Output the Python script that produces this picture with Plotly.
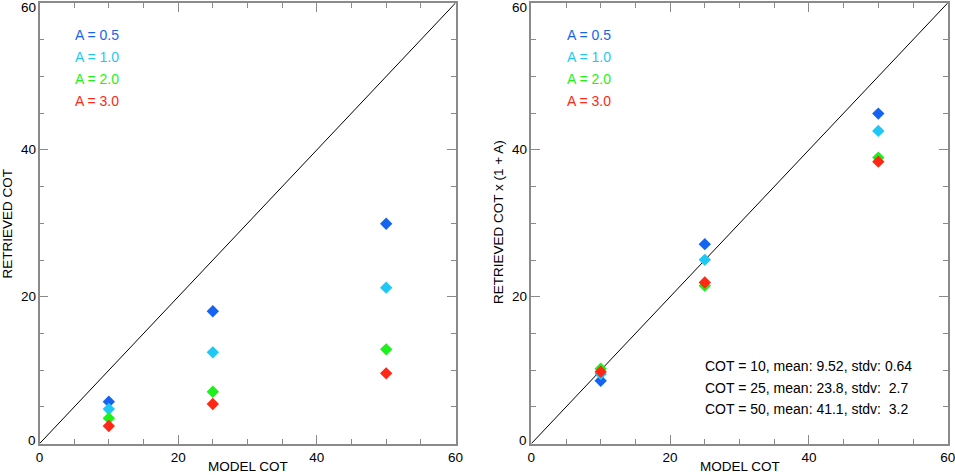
import plotly.graph_objects as go

# model cloud optical thickness
model_cot = [10, 25, 50]
aerosol_labels = ["A = 0.5", "A = 1.0", "A = 2.0", "A = 3.0"]
colors = ["#1464F0", "#1EC8F5", "#1EF01E", "#FF2814"]

# left panel: retrieved COT, one list per A value
retrieved = [
    [5.72, 18.03, 29.95],
    [4.72, 12.44, 21.24],
    [3.46, 7.08, 12.85],
    [2.41, 5.40, 9.58],
]
# right panel: retrieved COT x (1 + A)
corrected = [
    [8.57, 27.17, 44.94],
    [9.50, 25.03, 42.59],
    [10.2, 21.50, 38.95],
    [9.80, 21.95, 38.40],
]
one_to_one = [0, 60]
ytick_vals = [0, 20, 40, 60]
stats_lines = [
    "COT = 10, mean: 9.52, stdv: 0.64",
    "COT = 25, mean: 23.8, stdv:  2.7",
    "COT = 50, mean: 41.1, stdv:  3.2",
]

FONT = "Liberation Sans, Arial, Helvetica, sans-serif"
W, H = 955, 476

fig = go.Figure()

for xa, ya, yvals in [("x", "y", retrieved), ("x2", "y2", corrected)]:
    fig.add_trace(go.Scatter(x=one_to_one, y=one_to_one, mode="lines",
                             line=dict(color="black", width=1),
                             xaxis=xa, yaxis=ya, showlegend=False, hoverinfo="skip"))
    for i, vals in enumerate(yvals):
        fig.add_trace(go.Scatter(x=model_cot, y=vals, mode="markers",
                                 marker=dict(symbol="diamond", size=9.5, color=colors[i],
                                             line=dict(width=0)),
                                 name=aerosol_labels[i], xaxis=xa, yaxis=ya,
                                 showlegend=False))

axis_style = dict(range=[0, 60], dtick=20, ticks="inside", ticklen=9, tickwidth=1,
                  tickcolor="#8a8a8a", showline=True, linecolor="#8a8a8a", linewidth=1.5,
                  mirror="allticks", showgrid=False, zeroline=False, automargin=False,
                  ticklabeloverflow="allow",
                  minor=dict(dtick=5, ticks="inside", ticklen=5, tickcolor="#8a8a8a",
                             showgrid=False),
                  tickfont=dict(size=13.5, color="black", family=FONT))

ydom = [1 - 443.7 / H, 1 - 3 / H]
fig.update_layout(
    width=W, height=H,
    margin=dict(l=0, r=0, t=0, b=0, pad=0),
    paper_bgcolor="white", plot_bgcolor="white",
    font=dict(family=FONT, size=13.5, color="black"),
    xaxis=dict(domain=[39.5 / W, 455.5 / W], anchor="y", **axis_style),
    yaxis=dict(domain=ydom, anchor="x", showticklabels=False, **axis_style),
    xaxis2=dict(domain=[531.3 / W, 947.7 / W], anchor="y2", **axis_style),
    yaxis2=dict(domain=ydom, anchor="x2", showticklabels=False, **axis_style),
)

annotations = []
# y tick labels (end labels nudged inside the frame, as in the original)
for xr, yr in (("x domain", "y"), ("x2 domain", "y2")):
    for v in ytick_vals:
        shift = -5 if v == ytick_vals[-1] else (3 if v == ytick_vals[0] else 0)
        annotations.append(dict(x=0, y=v, xref=xr, yref=yr, text=str(v), showarrow=False,
                                xanchor="right", yanchor="middle", xshift=-2, yshift=shift,
                                font=dict(size=13.5, color="black", family=FONT)))
# legend-like coloured labels in each panel
for x0 in (73 / W, 565 / W):
    for i, lab in enumerate(aerosol_labels):
        annotations.append(dict(x=x0, y=1 - (35.5 + 21.8 * i) / H, xref="paper", yref="paper",
                                text=lab, showarrow=False, xanchor="left", yanchor="middle",
                                font=dict(size=14, color=colors[i], family=FONT)))
# axis titles
for xc in (247.5 / W, 739.5 / W):
    annotations.append(dict(x=xc, y=0, xref="paper", yref="paper", text="MODEL COT",
                            showarrow=False, xanchor="center", yanchor="bottom",
                            font=dict(size=13.5, color="black", family=FONT)))
annotations.append(dict(x=6.5 / W, y=1 - 224 / H, xref="paper", yref="paper",
                        text="RETRIEVED COT", textangle=-90, showarrow=False,
                        xanchor="center", yanchor="middle"))
annotations.append(dict(x=498 / W, y=1 - 222 / H, xref="paper", yref="paper",
                        text="RETRIEVED COT x (1 + A)", textangle=-90, showarrow=False,
                        xanchor="center", yanchor="middle"))
# statistics text
for i, line in enumerate(stats_lines):
    annotations.append(dict(x=703 / W, y=1 - (366 + 21.7 * i) / H, xref="paper", yref="paper",
                            text=line.replace("  ", " &nbsp;"), showarrow=False,
                            xanchor="left", yanchor="middle",
                            font=dict(size=14, color="black", family=FONT)))
fig.update_layout(annotations=annotations)

# drop the browser's default body margin so the figure sits at the page corner
fig.write_html("out.html", config={"displayModeBar": False},
               post_script="document.body.style.margin = '0';")
